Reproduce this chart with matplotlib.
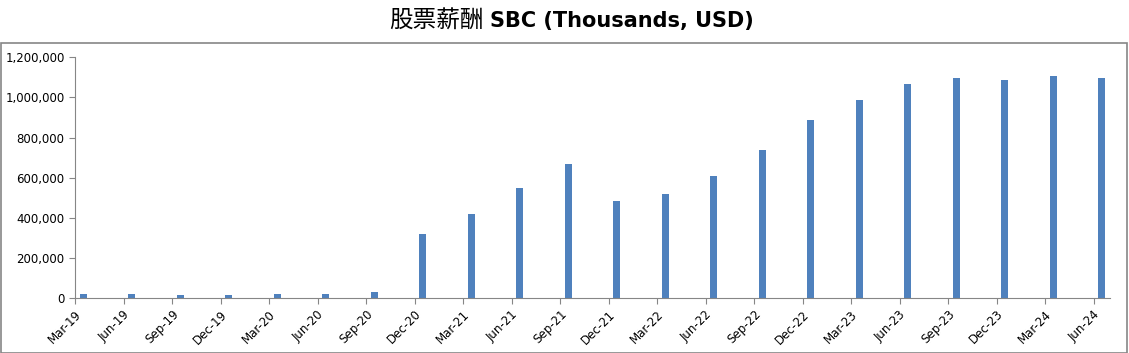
import numpy as np
import matplotlib.pyplot as plt
from matplotlib.patches import Rectangle
from matplotlib.ticker import FuncFormatter

# quarterly stock based compensation, thousands of USD
quarters = ["Mar-19", "Jun-19", "Sep-19", "Dec-19", "Mar-20", "Jun-20", "Sep-20",
            "Dec-20", "Mar-21", "Jun-21", "Sep-21", "Dec-21", "Mar-22", "Jun-22",
            "Sep-22", "Dec-22", "Mar-23", "Jun-23", "Sep-23", "Dec-23", "Mar-24", "Jun-24"]
sbc = [19000, 18000, 17000, 17000, 22000, 22000, 29000,
       319000, 419000, 548000, 668000, 484000, 518000, 608000,
       738000, 887000, 987000, 1067000, 1097000, 1087000, 1107000, 1097000]

title_cn = "股票薪酬"
title_en = "SBC (Thousands, USD)"

fig = plt.figure(figsize=(11.29, 3.53), dpi=100)
ax = fig.add_axes([75 / 1129, 55 / 353, (1110 - 75) / 1129, (298 - 57.3) / 353])

x = np.arange(len(quarters))
# bars sit just right of the tick, like an excel date axis
ax.bar(x + 0.1, sbc, width=0.145, align="edge", color="#4f81bd")

ax.set_xlim(0, 21.34)
ax.set_ylim(0, 1200000)
ax.set_yticks(np.arange(0, 1200001, 200000))
ax.yaxis.set_major_formatter(FuncFormatter(lambda v, p: "{:,.0f}".format(v)))
ax.set_xticks(x)
ax.set_xticklabels(quarters, rotation=45, ha="right", rotation_mode="anchor")

for side in ["top", "right"]:
    ax.spines[side].set_visible(False)
for side in ["left", "bottom"]:
    ax.spines[side].set_color("#868686")
ax.tick_params(axis="both", colors="#868686", length=4, labelsize=8.5, labelcolor="black")
ax.tick_params(axis="x", pad=3)

# outer chart frame
fig.patches.append(Rectangle((1 / 1129, 0), 1126 / 1129, (353 - 43) / 353,
                             transform=fig.transFigure, fill=False,
                             edgecolor="#868686", linewidth=1.2))

# title: chinese part regular, latin part bold
ty = 1 - 21 / 353
fig.text(484 / 1129, ty, title_cn, ha="right", va="center", fontsize=17,
         family=["Noto Sans CJK SC", "DejaVu Sans"])
fig.text(490 / 1129, ty, title_en, ha="left", va="center", fontsize=15,
         fontweight="bold", family="DejaVu Sans")

fig.savefig("out.png", dpi=100)
